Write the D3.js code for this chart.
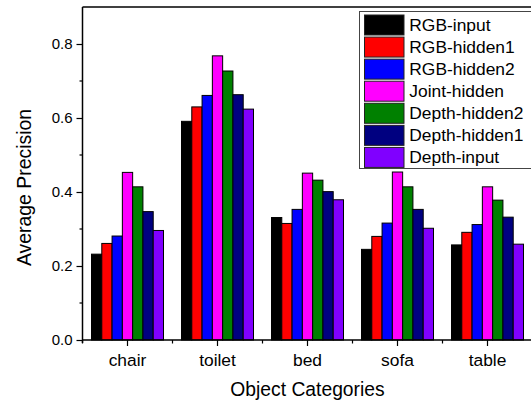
<!DOCTYPE html>
<html>
<head>
<meta charset="utf-8">
<script src="https://cdn.jsdelivr.net/npm/d3@7/dist/d3.min.js"></script>
<style>
  html, body { margin: 0; padding: 0; background: #fff; }
  svg { display: block; font-family: "Liberation Sans", Arial, sans-serif; }
</style>
</head>
<body>
<svg id="chart" width="531" height="402"></svg>
<script>
// Object categories along the x axis
const categories = ["chair", "toilet", "bed", "sofa", "table"];

// Feature sources compared for each category
const seriesNames = ["RGB-input", "RGB-hidden1", "RGB-hidden2", "Joint-hidden",
                     "Depth-hidden2", "Depth-hidden1", "Depth-input"];
const seriesColors = ["#000000", "#ff0000", "#0000ff", "#ff00ff",
                      "#008000", "#000080", "#8000ff"];

// Average precision per series, one value per category
const rgbInput     = [0.232, 0.591, 0.331, 0.245, 0.257];
const rgbHidden1   = [0.261, 0.630, 0.315, 0.280, 0.291];
const rgbHidden2   = [0.281, 0.661, 0.353, 0.316, 0.312];
const jointHidden  = [0.453, 0.768, 0.451, 0.454, 0.414];
const depthHidden2 = [0.414, 0.727, 0.432, 0.414, 0.378];
const depthHidden1 = [0.347, 0.663, 0.401, 0.353, 0.332];
const depthInput   = [0.296, 0.624, 0.379, 0.302, 0.259];

const yMajorTicks = [0.0, 0.2, 0.4, 0.6, 0.8];
const yMinorTicks = [0.1, 0.3, 0.5, 0.7];

const seriesValues = [rgbInput, rgbHidden1, rgbHidden2, jointHidden,
                      depthHidden2, depthHidden1, depthInput];

const svg = d3.select("#chart");
const plotLeft = 82.5, plotRight = 532.5, plotTop = 7, plotBottom = 340;

const x = d3.scaleBand().domain(categories).range([plotLeft, plotRight])
  .paddingInner(0.2).paddingOuter(0.1);
const xs = d3.scaleBand().domain(seriesNames).range([0, x.bandwidth()]);
const y = d3.scaleLinear().domain([0, 0.9]).range([plotBottom, plotTop]);

// bars
const groups = svg.append("g").selectAll("g")
  .data(categories).join("g")
  .attr("transform", d => `translate(${x(d)},0)`);

groups.selectAll("rect")
  .data((c, ci) => seriesNames.map((s, si) => ({ s, si, v: seriesValues[si][ci] })))
  .join("rect")
  .attr("x", d => xs(d.s))
  .attr("y", d => y(d.v))
  .attr("width", xs.bandwidth())
  .attr("height", d => plotBottom - y(d.v))
  .attr("fill", d => seriesColors[d.si])
  .attr("stroke", "#000")
  .attr("stroke-width", 1);

// frame: top border
svg.append("line")
  .attr("x1", plotLeft).attr("x2", plotRight).attr("y1", plotTop).attr("y2", plotTop)
  .attr("stroke", "#000").attr("stroke-width", 1.5);

// y axis
const yAxis = svg.append("g").attr("transform", `translate(${plotLeft},0)`)
  .call(d3.axisLeft(y).tickValues(yMajorTicks).tickFormat(d3.format(".1f"))
    .tickSize(6).tickPadding(4));
yAxis.select(".domain").attr("d", `M0,${plotTop}V${plotBottom + 3}`).attr("stroke-width", 1.5);
yAxis.selectAll(".tick line").attr("stroke-width", 1.2);
yAxis.selectAll("text").attr("font-size", 15).attr("fill", "#000")
  .attr("font-family", "Liberation Sans, Arial, sans-serif");
yAxis.selectAll(".minor").data(yMinorTicks).join("line")
  .attr("class", "minor")
  .attr("x1", -3).attr("x2", 0)
  .attr("y1", d => y(d)).attr("y2", d => y(d))
  .attr("stroke", "#000").attr("stroke-width", 1.2);

// x axis: major ticks at category centres, minor ticks at group boundaries
const xAxis = svg.append("g").attr("transform", `translate(0,${plotBottom})`)
  .call(d3.axisBottom(x).tickSize(6).tickPadding(8));
xAxis.select(".domain").attr("d", `M${plotLeft},0H${plotRight}`).attr("stroke-width", 1.5);
xAxis.selectAll(".tick line").attr("stroke-width", 1.2);
xAxis.selectAll("text").attr("font-size", 17.4).attr("fill", "#000")
  .attr("font-family", "Liberation Sans, Arial, sans-serif");
const step = x.step();
const boundaries = d3.range(categories.length + 1).map(i => plotLeft + i * step);
xAxis.selectAll(".minor").data(boundaries).join("line")
  .attr("class", "minor")
  .attr("x1", d => d).attr("x2", d => d)
  .attr("y1", 0).attr("y2", 3.5)
  .attr("stroke", "#000").attr("stroke-width", 1.2);

// axis titles
svg.append("text")
  .attr("x", (plotLeft + plotRight) / 2).attr("y", 396)
  .attr("text-anchor", "middle").attr("font-size", 19.3)
  .text("Object Categories");
svg.append("text")
  .attr("transform", `translate(31,187.5) rotate(-90)`)
  .attr("text-anchor", "middle").attr("font-size", 19.4)
  .text("Average Precision");

// legend
const legend = svg.append("g");
legend.append("rect")
  .attr("x", 359.5).attr("y", 11.5).attr("width", 180).attr("height", 157)
  .attr("fill", "#fff").attr("stroke", "#444").attr("stroke-width", 1);
const items = legend.selectAll("g.item").data(seriesNames).join("g")
  .attr("class", "item")
  .attr("transform", (d, i) => `translate(364,${15 + i * 22.07})`);
items.append("rect")
  .attr("x", 0.5).attr("y", 0).attr("width", 39.5).attr("height", 20)
  .attr("fill", (d, i) => seriesColors[i]).attr("stroke", "#222").attr("stroke-width", 1);
items.append("text")
  .attr("x", 45.3).attr("y", 10).attr("dy", "0.35em")
  .attr("font-size", 17.4)
  .text(d => d);
</script>
</body>
</html>
